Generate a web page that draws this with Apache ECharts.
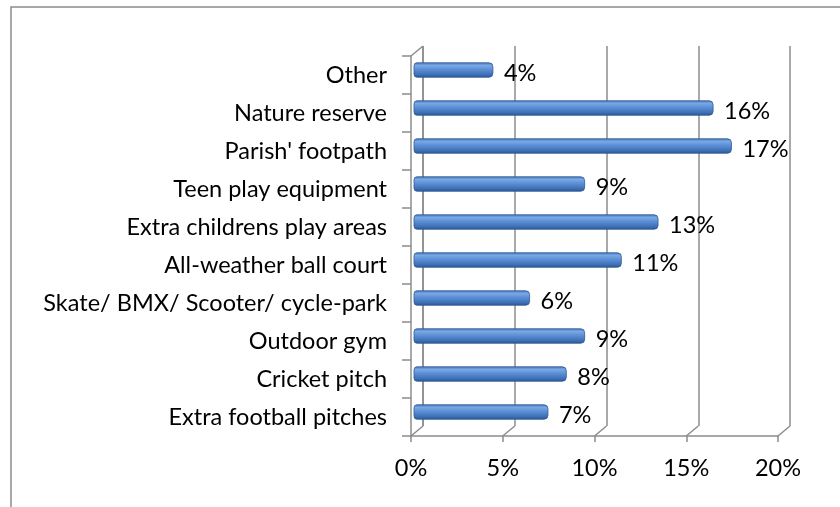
<!DOCTYPE html>
<html><head><meta charset="utf-8">
<script src="https://cdn.jsdelivr.net/npm/echarts@6/dist/echarts.min.js"></script>
<style>html,body{margin:0;padding:0;background:#fff}#c{width:840px;height:507px}</style>
</head><body><div id="c"></div>
<script>
// ---- data ----
const categories = ['Other','Nature reserve',"Parish' footpath",'Teen play equipment','Extra childrens play areas','All-weather ball court','Skate/ BMX/ Scooter/ cycle-park','Outdoor gym','Cricket pitch','Extra football pitches'];
const values = [0.04, 0.16, 0.17, 0.09, 0.13, 0.11, 0.06, 0.09, 0.08, 0.07];
const valueLabels = ['4%','16%','17%','9%','13%','11%','6%','9%','8%','7%'];
const xTicks = [0, 0.05, 0.10, 0.15, 0.20];
const xTickLabels = ['0%','5%','10%','15%','20%'];

// ---- style ----
const FONT = 'Lato';
const FS = 23.5;
const GRIDC = '#8c8c8c';
const DX = 12, DY = -10; // depth offset of the 3D walls

const chart = echarts.init(document.getElementById('c'), null, {renderer:'canvas'});
const xMin = xTicks[0], xMax = xTicks[xTicks.length-1], xInt = xTicks[1]-xTicks[0];

const option = {
  animation: false,
  backgroundColor: '#fff',
  graphic: [{type:'rect', silent:true, shape:{x:11, y:7, width:900, height:600},
    style:{fill:'none', stroke:GRIDC, lineWidth:1.5}}],
  grid: [
    {left:411, right:62, top:56, bottom:71},   // front
    {left:423, right:50, top:46, bottom:81},   // back wall
    {left:417, right:56, top:51, bottom:76}    // bars (mid depth)
  ],
  xAxis: [
    {type:'value', gridIndex:0, min:xMin, max:xMax, interval:xInt,
     axisLine:{show:true, lineStyle:{color:GRIDC, width:1.5}},
     axisTick:{show:true, length:6, lineStyle:{color:GRIDC, width:1.5}},
     axisLabel:{margin:20, color:'#000', fontFamily:FONT, fontSize:FS,
       formatter:(v)=>{const i=xTicks.findIndex(t=>Math.abs(t-v)<1e-9); return i>=0?xTickLabels[i]:'';}},
     splitLine:{show:false}},
    {type:'value', gridIndex:1, min:xMin, max:xMax, interval:xInt,
     axisLine:{show:false}, axisTick:{show:false}, axisLabel:{show:false},
     splitLine:{show:true, lineStyle:{color:GRIDC, width:1.5}}},
    {type:'value', gridIndex:2, min:xMin, max:xMax, interval:xInt, show:false}
  ],
  yAxis: [
    {type:'category', gridIndex:0, data:categories, inverse:true,
     axisLine:{show:true, lineStyle:{color:GRIDC, width:1.5}},
     axisTick:{show:true, length:9, lineStyle:{color:GRIDC, width:1.5}},
     axisLabel:{margin:24, color:'#000', fontFamily:FONT, fontSize:FS},
     splitLine:{show:false}},
    {type:'category', gridIndex:1, data:categories, inverse:true, show:false},
    {type:'category', gridIndex:2, data:categories, inverse:true, show:false}
  ],
  series: [
    {
      type:'custom', xAxisIndex:0, yAxisIndex:0, silent:true, clip:false,
      data: xTicks.map(v=>[v, 0]),
      renderItem:(params, api)=>{
        const cs = params.coordSys;
        const p = api.coord([api.value(0), 0]);
        const floorY = cs.y + cs.height;
        const ls = {stroke:GRIDC, lineWidth:1.5};
        const ch = [{type:'line', shape:{x1:p[0], y1:floorY, x2:p[0]+DX, y2:floorY+DY}, style:ls}];
        if (params.dataIndex === 0) {
          ch.push({type:'line', shape:{x1:p[0], y1:cs.y, x2:p[0]+DX, y2:cs.y+DY}, style:ls});
          ch.push({type:'line', shape:{x1:p[0]+DX, y1:cs.y+DY, x2:p[0]+DX, y2:floorY+DY}, style:ls});
        }
        return {type:'group', children:ch};
      }
    },
    {
      type:'custom', xAxisIndex:2, yAxisIndex:2, silent:true, clip:false,
      data: values.map((v,i)=>[v, i]),
      renderItem:(params, api)=>{
        const i = api.value(1);
        const s = api.coord([0, i]);
        const e = api.coord([api.value(0), i]);
        const h = 14.5;
        const x0 = s[0]-3, x1 = e[0]+2.5;
        const grad = new echarts.graphic.LinearGradient(0,0,0,1,[
          {offset:0, color:'#4072b4'},
          {offset:0.2, color:'#7aa8e6'},
          {offset:0.45, color:'#5d90d6'},
          {offset:0.8, color:'#3e70b6'},
          {offset:1, color:'#2b5490'}
        ]);
        return {type:'group', children:[
          {type:'rect', shape:{x:x0, y:s[1]-h/2, width:x1-x0, height:h, r:[3,4,4,3]},
           style:{fill:grad, stroke:'#2f5b96', lineWidth:0.8}},
          {type:'text', style:{text:valueLabels[params.dataIndex], x:x1+11, y:e[1]+3,
            align:'left', verticalAlign:'middle', fill:'#000', fontFamily:FONT, fontSize:FS}}
        ]};
      }
    }
  ]
};
chart.setOption(option);
</script>
</body></html>
